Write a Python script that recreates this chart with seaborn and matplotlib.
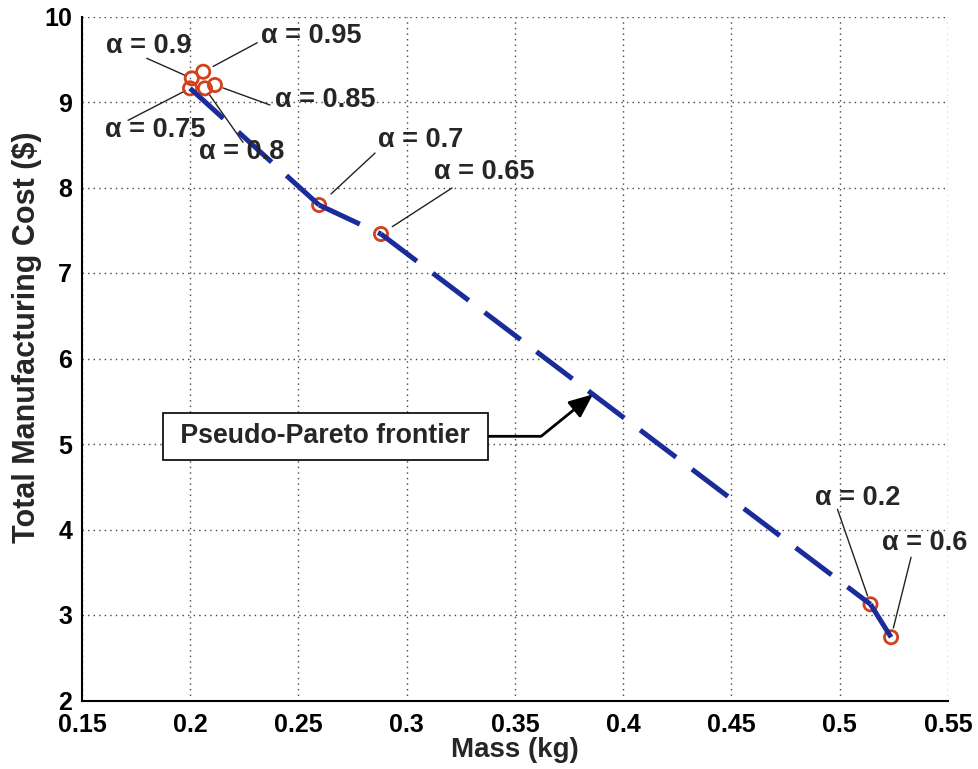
import numpy as np
import pandas as pd
import matplotlib
matplotlib.use("Agg")
import matplotlib.pyplot as plt
import seaborn as sns

# Design points, labelled by weighting factor alpha
alpha_labels = ["0.95", "0.9", "0.85", "0.8", "0.75", "0.7", "0.65", "0.2", "0.6"]
mass_kg = [0.2060, 0.2007, 0.2114, 0.2068, 0.1999, 0.2595, 0.2881, 0.5142, 0.5237]
cost_usd = [9.354, 9.277, 9.199, 9.160, 9.160, 7.795, 7.456, 3.125, 2.740]

# Non-dominated designs forming the frontier, ordered by mass
frontier_alphas = ["0.75", "0.7", "0.65", "0.2", "0.6"]

x_ticks = [0.15, 0.2, 0.25, 0.3, 0.35, 0.4, 0.45, 0.5, 0.55]
y_ticks = [2, 3, 4, 5, 6, 7, 8, 9, 10]

frontier_label = "Pseudo-Pareto frontier"

LINE_BLUE = "#1a2c9a"
MARKER_RED = "#d2401c"

sns.set_style("white")
plt.rcParams["font.family"] = ["Liberation Sans", "DejaVu Sans"]
plt.rcParams["font.weight"] = "bold"

points = pd.DataFrame({"alpha": alpha_labels, "mass": mass_kg, "cost": cost_usd})
lookup = points.set_index("alpha")

# each frontier segment is its own line so the dash pattern restarts at every vertex
seg_rows = []
for i in range(len(frontier_alphas) - 1):
    for a in frontier_alphas[i:i + 2]:
        seg_rows.append({"seg": i, "mass": lookup.loc[a, "mass"], "cost": lookup.loc[a, "cost"]})
segments = pd.DataFrame(seg_rows)

fig = plt.figure(figsize=(9.79, 7.69), dpi=100)
ax = fig.add_axes([82 / 979, 1 - 700.5 / 769, 866 / 979, 684 / 769])

sns.scatterplot(data=points, x="mass", y="cost", marker="o", s=90,
                color=MARKER_RED, edgecolor=MARKER_RED, linewidth=2.0,
                ax=ax, zorder=3, legend=False)
for coll in ax.collections:
    coll.set_facecolor("none")
    coll.set_edgecolor(MARKER_RED)

sns.lineplot(data=segments, x="mass", y="cost", units="seg", estimator=None,
             sort=False, color=LINE_BLUE, linewidth=3.6, ax=ax, zorder=4, legend=False)
for ln in ax.lines:
    ln.set_linestyle((0, (9, 4)))
    ln.set_dash_capstyle("butt")

# alpha labels: text offset and leader (tail, head), in pixels from the point
label_style = {
    "0.9":  ((-43, 32), (-45, 20), (-5, 3)),
    "0.95": ((108, 36), (54, 29), (10, 5)),
    "0.85": ((110, -15), (55, -20), (8, -3)),
    "0.75": ((-35, -42), (-62, -32), (-2, -5)),
    "0.8":  ((37, -64), (38, -54), (3, -5)),
    "0.7":  ((102, 65), (56, 52), (11, 12)),
    "0.65": ((103, 62), (71, 46), (12, 6)),
    "0.2":  ((-13, 106), (-33, 95), (-4, 8)),
    "0.6":  ((34, 94), (20, 80), (3, 9)),
}
for a, m, c in zip(alpha_labels, mass_kg, cost_usd):
    txt_off, tail, head = label_style[a]
    ax.annotate("\u03b1 = " + a, xy=(m, c), xytext=txt_off, textcoords="offset pixels",
                ha="center", va="center", fontsize=19.5, fontweight="bold", zorder=6)
    ax.annotate("", xy=(m, c), xytext=tail, textcoords="offset pixels",
                arrowprops=dict(arrowstyle="-", lw=1.0, color="#222222",
                                shrinkA=0, shrinkB=np.hypot(*head) * 0.72),
                zorder=2)

# callout box pointing at the frontier
f_mass = [lookup.loc[a, "mass"] for a in frontier_alphas]
f_cost = [lookup.loc[a, "cost"] for a in frontier_alphas]
tip_mass = 0.386
tip_cost = np.interp(tip_mass, f_mass, f_cost)
ax.annotate(" " + frontier_label + " ", xy=(tip_mass, tip_cost), xytext=(0.2625, 5.09),
            textcoords="data", ha="center", va="center", fontsize=19.3, fontweight="bold",
            bbox=dict(boxstyle="square,pad=0.4", fc="white", ec="black", lw=1.2),
            arrowprops=dict(arrowstyle="-|>,head_length=0.75,head_width=0.32", lw=2.0,
                            color="black", shrinkA=0, shrinkB=0,
                            connectionstyle="angle,angleA=0,angleB=39,rad=0"),
            zorder=7)

ax.set_xlim(0.15, 0.55)
ax.set_ylim(2, 10)
ax.set_xticks(x_ticks)
ax.set_yticks(y_ticks)
ax.set_xticklabels([f"{t:g}" for t in x_ticks])
ax.set_yticklabels([f"{t:g}" for t in y_ticks])
ax.grid(True, color="#444444", linestyle=(0, (1, 3)), linewidth=1.0)
ax.set_axisbelow(True)

for side in ("top", "right"):
    ax.spines[side].set_visible(False)
for side in ("left", "bottom"):
    ax.spines[side].set_color("black")
    ax.spines[side].set_linewidth(1.5)

ax.tick_params(axis="both", which="major", direction="in", length=5, width=1.2,
               labelsize=18, colors="black")
ax.tick_params(axis="y", pad=7)
ax.tick_params(axis="x", pad=9)
for lbl in ax.get_xticklabels() + ax.get_yticklabels():
    lbl.set_fontweight("bold")

ax.set_xlabel("Mass (kg)", fontsize=20, fontweight="bold", labelpad=0)
ax.set_ylabel("Total Manufacturing Cost ($)", fontsize=22, fontweight="bold")
ax.yaxis.set_label_coords(-0.046, 0.531)

fig.savefig("out.png", dpi=100, facecolor="white")
